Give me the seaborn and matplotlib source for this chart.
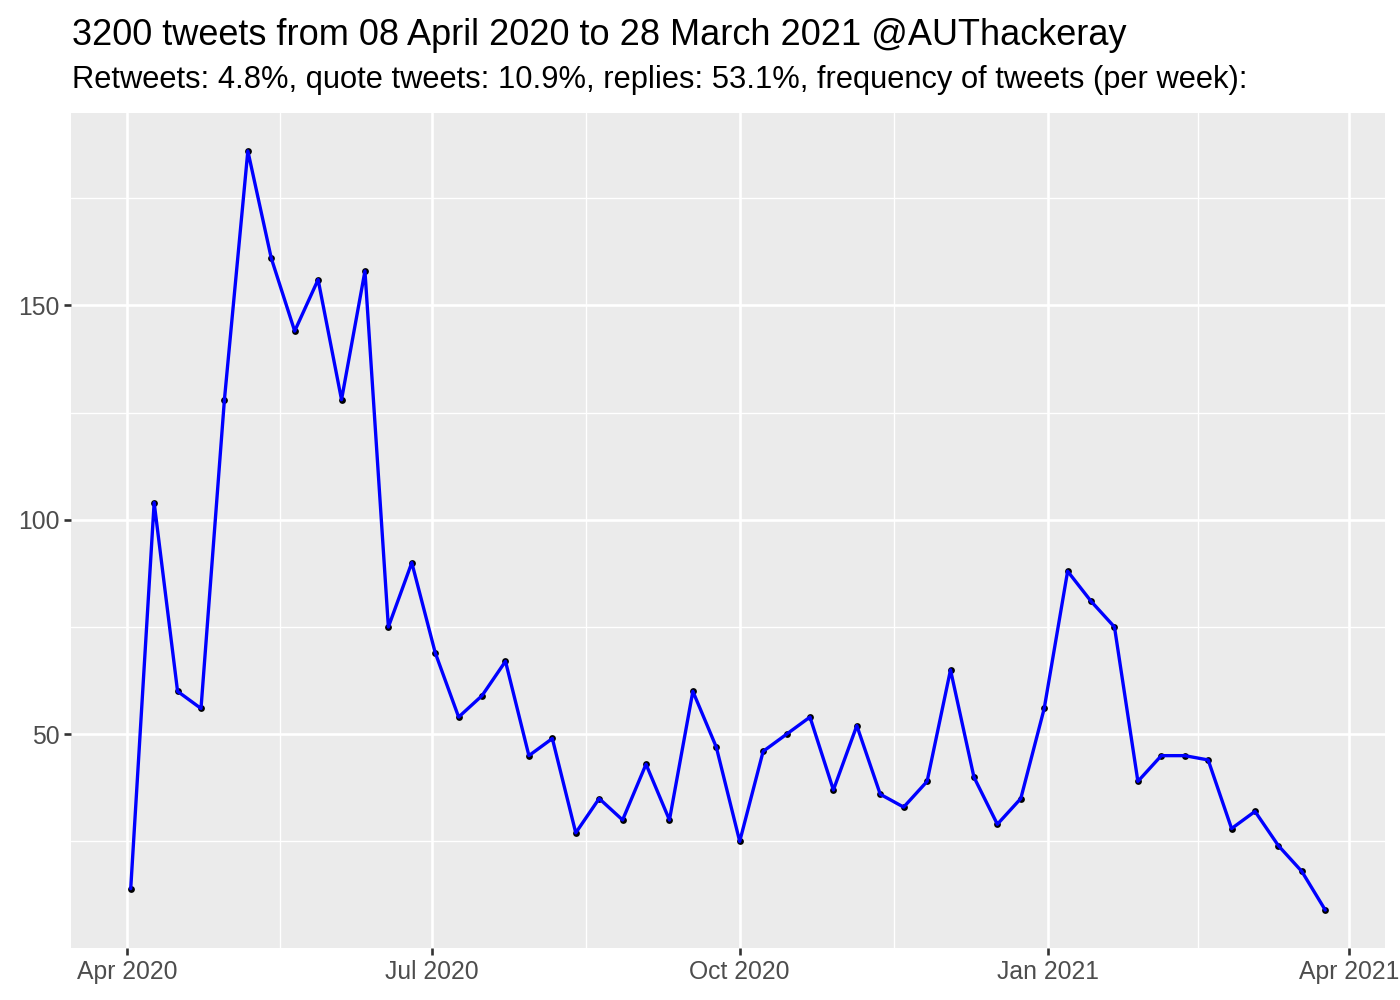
import pandas as pd
import numpy as np
import matplotlib
matplotlib.use('Agg')
import matplotlib.pyplot as plt
import matplotlib.dates as mdates
from matplotlib.ticker import MultipleLocator, FixedLocator
import seaborn as sns

# weekly tweet counts
semanas = pd.date_range('2020-04-02', periods=52, freq='7D')
tweets = [14, 104, 60, 56, 128, 186, 161, 144, 156, 128, 158, 75, 90, 69, 54, 59,
          67, 45, 49, 27, 35, 30, 43, 30, 60, 47, 25, 46, 50, 54, 37, 52, 36, 33,
          39, 65, 40, 29, 35, 56, 88, 81, 75, 39, 45, 45, 44, 28, 32, 24, 18, 9]

titulo = '3200 tweets from 08 April 2020 to 28 March 2021 @AUThackeray'
subtitulo = 'Retweets: 4.8%, quote tweets: 10.9%, replies: 53.1%, frequency of tweets (per week):'

dados = pd.DataFrame({'semana': semanas, 'n': tweets})

sns.set_style('darkgrid')
plt.rcParams['font.family'] = ['Liberation Sans', 'DejaVu Sans']

fig = plt.figure(figsize=(14, 10), dpi=100)
ax = fig.add_axes([71/1400, 52/1000, (1385-71)/1400, (948-113)/1000])
ax.set_facecolor('#EBEBEB')

sns.scatterplot(x='semana', y='n', data=dados, color='black', s=24, linewidth=0, ax=ax, zorder=2)
sns.lineplot(x='semana', y='n', data=dados, color='#0000FF', linewidth=2.4, ax=ax, zorder=3)

# limites com expansao de 5% estilo ggplot
x0 = mdates.date2num(semanas[0])
x1 = mdates.date2num(semanas[-1])
dx = (x1 - x0) * 0.05
ax.set_xlim(x0 - dx, x1 + dx)
dy = (max(tweets) - min(tweets)) * 0.05
ax.set_ylim(min(tweets) - dy, max(tweets) + dy)

ax.xaxis.set_major_locator(mdates.MonthLocator(bymonth=[1, 4, 7, 10]))
ax.xaxis.set_major_formatter(mdates.DateFormatter('%b %Y'))
majores = [mdates.date2num(pd.Timestamp(d)) for d in ['2020-04-01', '2020-07-01', '2020-10-01', '2021-01-01', '2021-04-01']]
ax.xaxis.set_minor_locator(FixedLocator([(a + b) / 2 for a, b in zip(majores[:-1], majores[1:])]))
ax.yaxis.set_major_locator(MultipleLocator(50))
ax.yaxis.set_minor_locator(FixedLocator([25, 75, 125, 175]))

ax.grid(which='major', color='white', linewidth=1.9)
ax.grid(which='minor', color='white', linewidth=0.95)
ax.tick_params(which='major', length=5, width=1.9, color='#333333', labelcolor='#4D4D4D',
               labelsize=17.8, pad=3.5, bottom=True, left=True)
ax.tick_params(which='minor', length=0)
for s in ax.spines.values():
    s.set_visible(False)
ax.set_xlabel('')
ax.set_ylabel('')

fig.text(72/1400, 1 - 45/1000, titulo, fontsize=26, color='black', va='baseline', ha='left')
fig.text(72/1400, 1 - 88/1000, subtitulo, fontsize=22.2, color='black', va='baseline', ha='left')

fig.savefig('out.png', dpi=100, facecolor='white')
